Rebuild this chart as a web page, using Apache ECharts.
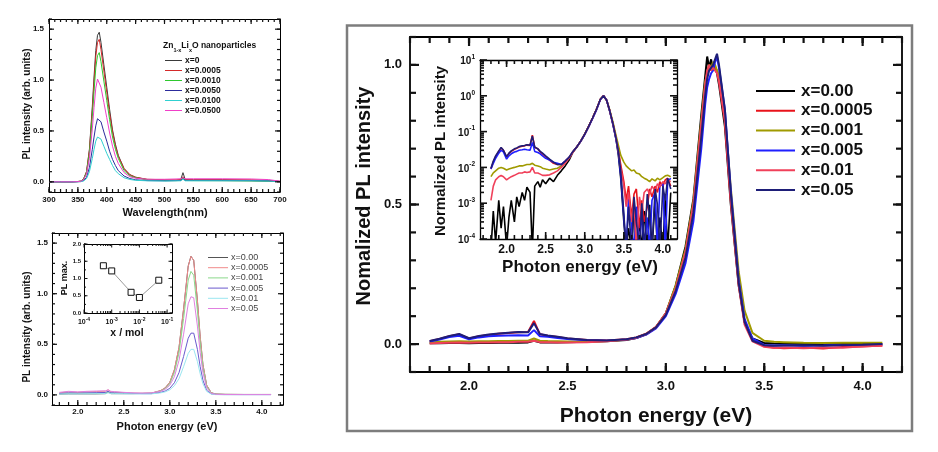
<!DOCTYPE html>
<html><head><meta charset="utf-8">
<script src="https://cdn.jsdelivr.net/npm/echarts@6/dist/echarts.min.js"></script>
<style>html,body{margin:0;padding:0;background:#fff}#c{width:938px;height:452px}</style>
</head><body><div id="c"></div>
<script>
// ================= DATA =================
const wlX = [300,320,340,350,355,360,365,370,375,378,381,384,387,390,395,400,405,410,415,420,430,440,450,470,500,520,528,532,536,550,600,650,680,700];
const wl_x0     = [0,0,0,0.003,0.007,0.03,0.10,0.32,0.74,1.03,1.29,1.44,1.47,1.37,1.15,0.93,0.71,0.51,0.37,0.26,0.13,0.07,0.045,0.022,0.015,0.013,0.02,0.09,0.02,0.013,0.012,0.01,0.008,0.003];
const wl_x0005  = [0,0,0,0.003,0.007,0.028,0.098,0.31,0.70,0.98,1.23,1.37,1.40,1.30,1.09,0.88,0.67,0.49,0.35,0.25,0.13,0.07,0.045,0.025,0.02,0.02,0.022,0.05,0.022,0.022,0.022,0.02,0.015,0.005];
const wl_x0010  = [0,0,0,0.003,0.006,0.025,0.089,0.28,0.64,0.89,1.12,1.24,1.27,1.18,0.99,0.80,0.61,0.44,0.32,0.23,0.11,0.06,0.04,0.02,0.012,0.012,0.013,0.04,0.013,0.012,0.012,0.01,0.008,0.003];
const wl_x0050  = [0,0,0,0.001,0.003,0.013,0.044,0.14,0.32,0.44,0.55,0.62,0.63,0.59,0.49,0.40,0.30,0.22,0.16,0.11,0.057,0.032,0.02,0.012,0.01,0.012,0.014,0.03,0.014,0.015,0.015,0.013,0.01,0.003];
const wl_x0100  = [0,0,0,0.001,0.002,0.009,0.032,0.10,0.23,0.32,0.40,0.44,0.45,0.42,0.35,0.28,0.22,0.16,0.11,0.08,0.04,0.023,0.015,0.01,0.008,0.01,0.01,0.025,0.01,0.01,0.01,0.01,0.008,0.003];
const wl_x0500  = [0,0,0,0.002,0.005,0.022,0.075,0.23,0.52,0.73,0.92,1.01,1.0,0.93,0.78,0.63,0.48,0.35,0.25,0.18,0.09,0.05,0.035,0.025,0.025,0.028,0.03,0.04,0.03,0.03,0.03,0.028,0.022,0.006];
const tlNames = ['x=0','x=0.0005','x=0.0010','x=0.0050','x=0.0100','x=0.0500'];
const tlXTicks = [300,350,400,450,500,550,600,650,700];
const tlYTicks = [0,0.5,1.0,1.5];

const peX = [1.8,1.9,2.0,2.1,2.2,2.3,2.33,2.36,2.4,2.5,2.6,2.7,2.8,2.9,2.95,3.0,3.05,3.1,3.15,3.2,3.23,3.26,3.3,3.33,3.36,3.4,3.45,3.5,3.6,3.8,4.0,4.1];
const pe_x000  = [0.008,0.01,0.01,0.01,0.01,0.012,0.03,0.012,0.012,0.012,0.012,0.014,0.016,0.041,0.069,0.123,0.247,0.466,0.849,1.274,1.37,1.329,0.932,0.575,0.301,0.096,0.021,0.008,0.005,0.004,0.004,0.004];
const pe_x0005 = [0.02,0.03,0.025,0.03,0.033,0.036,0.05,0.03,0.028,0.022,0.018,0.016,0.018,0.043,0.07,0.125,0.25,0.47,0.85,1.27,1.37,1.33,0.93,0.58,0.30,0.097,0.022,0.008,0.005,0.004,0.004,0.004];
const pe_x001  = [0.012,0.015,0.015,0.016,0.017,0.018,0.03,0.017,0.016,0.015,0.014,0.014,0.016,0.038,0.062,0.11,0.22,0.415,0.756,1.135,1.22,1.183,0.83,0.512,0.268,0.085,0.018,0.007,0.005,0.004,0.004,0.004];
const pe_x005  = [0.015,0.02,0.018,0.02,0.022,0.024,0.035,0.02,0.02,0.017,0.014,0.012,0.012,0.025,0.038,0.065,0.12,0.22,0.38,0.56,0.61,0.61,0.45,0.28,0.145,0.045,0.01,0.004,0.003,0.003,0.003,0.003];
const pe_x01   = [0.008,0.01,0.01,0.011,0.012,0.013,0.02,0.012,0.012,0.011,0.01,0.01,0.01,0.02,0.03,0.05,0.09,0.16,0.28,0.41,0.45,0.45,0.33,0.21,0.11,0.035,0.008,0.003,0.002,0.002,0.002,0.002];
const pe_x05   = [0.025,0.035,0.03,0.035,0.038,0.04,0.05,0.035,0.032,0.025,0.02,0.018,0.02,0.035,0.055,0.095,0.18,0.34,0.6,0.9,0.97,0.96,0.68,0.42,0.22,0.07,0.015,0.006,0.004,0.003,0.003,0.003];
const blNames = ['x=0.00','x=0.0005','x=0.001','x=0.005','x=0.01','x=0.05'];
const blXTicks = [2.0,2.5,3.0,3.5,4.0];
const blYTicks = [0,0.5,1.0,1.5];

const molX = [0.0005,0.001,0.005,0.01,0.05];
const plMax = [1.37,1.22,0.6,0.45,0.95];
const molDecades = [-4,-3,-2,-1];
const plMaxTicks = [0,0.5,1.0,1.5,2.0];

const mX = [1.80,1.85,1.90,1.95,2.00,2.05,2.10,2.15,2.20,2.25,2.30,2.33,2.36,2.40,2.45,2.50,2.60,2.70,2.80,2.85,2.90,2.95,3.00,3.05,3.10,3.14,3.18,3.20,3.21,3.22,3.23,3.24,3.25,3.26,3.27,3.30,3.33,3.37,3.40,3.44,3.50,3.55,3.60,3.70,3.80,3.90,4.00,4.10];
const m_x000  = [0.003,0.003,0.004,0.004,0.003,0.004,0.004,0.005,0.005,0.005,0.006,0.012,0.006,0.006,0.006,0.007,0.008,0.01,0.015,0.022,0.035,0.06,0.11,0.21,0.35,0.52,0.82,0.96,1.03,0.99,1.02,0.98,0.99,0.97,0.93,0.78,0.50,0.21,0.08,0.02,0.004,0.002,0.001,0.0,0.001,0.0,0.0,0.0];
const m_x0005 = [0.01,0.018,0.028,0.035,0.02,0.028,0.033,0.037,0.04,0.042,0.043,0.083,0.035,0.03,0.025,0.02,0.015,0.013,0.017,0.024,0.037,0.062,0.11,0.20,0.33,0.50,0.78,0.92,0.97,1.0,0.98,1.0,0.99,0.98,0.95,0.80,0.52,0.22,0.08,0.015,-0.008,-0.012,-0.015,-0.012,-0.016,-0.01,-0.009,-0.005];
const m_x001  = [0.006,0.008,0.009,0.01,0.009,0.01,0.01,0.011,0.011,0.012,0.012,0.02,0.012,0.011,0.01,0.009,0.009,0.011,0.016,0.023,0.036,0.06,0.11,0.21,0.34,0.51,0.80,0.94,0.97,1.0,0.99,1.01,1.0,0.98,0.96,0.82,0.56,0.26,0.12,0.04,0.012,0.008,0.007,0.005,0.004,0.005,0.005,0.005];
const m_x005  = [0.009,0.016,0.025,0.03,0.017,0.024,0.028,0.03,0.031,0.032,0.031,0.05,0.028,0.026,0.022,0.018,0.014,0.012,0.016,0.022,0.034,0.056,0.10,0.18,0.29,0.44,0.70,0.86,0.92,0.95,0.97,0.98,1.01,1.03,0.99,0.84,0.55,0.23,0.09,0.02,-0.003,-0.005,-0.004,-0.006,-0.005,-0.003,-0.004,-0.002];
const m_x01   = [0.002,0.004,0.005,0.006,0.005,0.006,0.006,0.007,0.007,0.008,0.008,0.012,0.007,0.007,0.006,0.006,0.007,0.01,0.016,0.023,0.036,0.06,0.11,0.20,0.33,0.50,0.79,0.93,0.98,1.0,0.98,0.99,0.98,0.97,0.94,0.80,0.51,0.21,0.07,0.01,-0.01,-0.014,-0.012,-0.015,-0.012,-0.013,-0.008,-0.006];
const m_x05   = [0.011,0.019,0.029,0.036,0.021,0.029,0.034,0.038,0.041,0.043,0.042,0.075,0.036,0.031,0.026,0.021,0.015,0.013,0.017,0.024,0.036,0.06,0.105,0.19,0.31,0.47,0.74,0.89,0.95,0.98,0.99,1.0,1.02,1.04,1.0,0.84,0.54,0.22,0.08,0.012,-0.004,-0.006,-0.005,-0.004,-0.006,-0.003,-0.002,0.0];
const rNames = ['x=0.00','x=0.0005','x=0.001','x=0.005','x=0.01','x=0.05'];
const rXTicks = [2.0,2.5,3.0,3.5,4.0];
const rYTicks = [0,0.5,1.0];

const iX = [1.80,1.83,1.86,1.90,1.93,1.96,2.00,2.03,2.06,2.10,2.13,2.16,2.20,2.23,2.26,2.30,2.33,2.36,2.40,2.43,2.46,2.50,2.55,2.60,2.65,2.70,2.75,2.80,2.85,2.90,2.95,3.00,3.05,3.10,3.15,3.20,3.24,3.28,3.32,3.36,3.40,3.43,3.46,3.50,3.53,3.56,3.60,3.63,3.66,3.70,3.73,3.76,3.80,3.83,3.86,3.90,3.93,3.96,4.00,4.03,4.06,4.10];
const i_x000  = [0.00005,0.0006,0.00008,0.0012,0.0002,0.0008,0.00006,0.0004,0.0012,0.0003,0.0015,0.0008,0.002,0.0012,0.0028,0.002,0.00005,0.003,0.004,0.0028,0.0045,0.0035,0.005,0.004,0.006,0.008,0.011,0.016,
  0.027,0.037,0.054,0.084,0.14,0.24,0.42,0.80,1.0,0.74,0.37,0.16,0.062,0.022,
  0.005,0.0003,0.00005,0.0002,0.00005,0.0008,0.00005,0.0003,0.00005,0.0006,0.00005,0.0009,0.00005,0.0012,0.00005,0.0004,0.00005,0.0015,0.00005,0.002];
const i_x0005 = [0.009,0.014,0.02,0.028,0.035,0.03,0.019,0.024,0.028,0.032,0.034,0.037,0.039,0.04,0.042,0.041,0.08,0.036,0.033,0.027,0.024,0.02,0.016,0.013,0.012,0.012,0.015,0.019,
  0.028,0.038,0.055,0.085,0.14,0.24,0.42,0.80,1.0,0.75,0.38,0.17,0.068,0.03,
  0.012,0.004,0.0012,0.003,0.0004,0.0018,0.0025,0.0002,0.0012,0.0003,0.0008,0.0025,0.0015,0.003,0.002,0.004,0.003,0.0045,0.005,0.003];
const i_x001  = [0.0055,0.007,0.008,0.0095,0.01,0.0095,0.0085,0.009,0.0095,0.01,0.0105,0.011,0.011,0.0115,0.012,0.012,0.013,0.0115,0.011,0.0105,0.0095,0.009,0.0085,0.009,0.0095,0.011,0.014,0.019,
  0.028,0.038,0.055,0.086,0.14,0.24,0.42,0.80,1.0,0.77,0.40,0.19,0.078,0.042,
  0.022,0.014,0.011,0.0095,0.008,0.0085,0.007,0.0065,0.0055,0.005,0.0045,0.004,0.0048,0.0042,0.005,0.0045,0.0052,0.0058,0.006,0.0055];
const i_x005  = [0.009,0.013,0.018,0.025,0.03,0.027,0.017,0.021,0.024,0.027,0.028,0.03,0.031,0.032,0.031,0.03,0.05,0.028,0.026,0.024,0.021,0.018,0.016,0.014,0.013,0.012,0.015,0.019,
  0.028,0.038,0.054,0.083,0.135,0.23,0.40,0.78,1.0,0.76,0.37,0.16,0.06,0.025,
  0.006,0.0004,0.00005,0.0015,0.0002,0.00005,0.0008,0.00005,0.0006,0.00005,0.0004,0.00005,0.0012,0.002,0.00005,0.003,0.0035,0.00005,0.004,0.005];
const i_x01   = [0.0012,0.003,0.0045,0.0055,0.006,0.0055,0.0045,0.005,0.0055,0.006,0.0065,0.007,0.007,0.0075,0.0072,0.0075,0.01,0.007,0.007,0.0065,0.006,0.006,0.0062,0.007,0.008,0.01,0.013,0.018,
  0.027,0.038,0.055,0.085,0.14,0.24,0.42,0.80,1.0,0.75,0.38,0.17,0.066,0.028,
  0.01,0.003,0.0008,0.002,0.0003,0.0012,0.00005,0.0015,0.0006,0.002,0.0025,0.0018,0.003,0.0022,0.0035,0.0028,0.004,0.0035,0.0045,0.004];
const i_x05   = [0.0095,0.015,0.021,0.029,0.036,0.03,0.02,0.025,0.029,0.033,0.035,0.038,0.04,0.041,0.043,0.042,0.075,0.037,0.033,0.028,0.025,0.021,0.017,0.014,0.012,0.012,0.015,0.019,
  0.028,0.038,0.055,0.085,0.14,0.24,0.42,0.80,1.0,0.75,0.38,0.17,0.066,0.028,
  0.008,0.0005,0.00005,0.0008,0.00005,0.0015,0.0003,0.00005,0.001,0.00005,0.0018,0.0004,0.00005,0.0025,0.0009,0.00005,0.003,0.0012,0.005,0.0025];
const iXTicks = [2.0,2.5,3.0,3.5,4.0];
const iYDecades = [-4,-3,-2,-1,0,1];

// ================= STYLE / BUILD =================
const FONT = "'Liberation Sans', Arial, Helvetica, sans-serif";
const tlColors = ['#3a3a3a','#d42a2a','#2ec82e','#2c2c9c','#30d0d0','#f040c8'];
const blColors = ['#555555','#f08a8a','#8ad88a','#6a5acd','#9ae6f0','#e080e0'];
const rColors  = ['#000000','#e8131b','#a09a00','#1f1fff','#f0405a','#1e1e78'];

const grids = [], xAxes = [], yAxes = [], series = [], graphics = [];

function steps(a, b, s) { const r = []; for (let k = Math.ceil(a / s - 1e-9); k * s <= b + 1e-9; k++) r.push(+(k * s).toFixed(6)); return r; }
function logMinor(lo, hi) { const r = []; for (let d = Math.floor(lo); d < hi; d++) for (let k = 2; k <= 9; k++) { const v = d + Math.log10(k); if (v >= lo && v <= hi) r.push(v); } return r; }
const f1 = v => v.toFixed(1);
const fInt = v => String(Math.round(v));
const fPow = v => '{b|10}{s|' + Math.round(v) + '}';

function labelAx(g, pos, T, lw, lab) {
  const a = {
    type: 'value', gridIndex: g, position: pos, min: T.min, max: T.max,
    axisLine: { show: true, onZero: false, lineStyle: { color: '#000', width: lw } },
    axisTick: { show: false }, axisLabel: { show: false },
    splitLine: { show: false }, splitArea: { show: false }
  };
  if (lab) a.axisLabel = Object.assign({ show: true, customValues: T.major, formatter: T.fmt, color: '#111', fontFamily: FONT, fontWeight: 'bold' }, lab);
  return a;
}
// tick marks placed through the axes' own scales (custom series)
function tickSeries(p, X, Y, st) {
  const toRaw = (S, v) => S.type === 'log' ? Math.pow(10, v) : v;
  const xr = X.type === 'log' ? X.min * 1.0001 : X.min, yr = Y.type === 'log' ? Y.min * 1.0001 : Y.min;
  const data = [];
  [[X.tick.major, st.major], [X.tick.minor, st.minor]].forEach(([vals, len]) => vals.forEach(v => {
    data.push([toRaw(X, v), yr, 0, len]); data.push([toRaw(X, v), yr, 1, len]); }));
  [[Y.tick.major, st.major], [Y.tick.minor, st.minor]].forEach(([vals, len]) => vals.forEach(v => {
    data.push([xr, toRaw(Y, v), 2, len]); data.push([xr, toRaw(Y, v), 3, len]); }));
  const tw = st.tw, col = '#111';
  series.push({
    type: 'custom', xAxisIndex: p.xi, yAxisIndex: p.yi, clip: false, z: 10, data,
    renderItem: function (params, api) {
      const cs = params.coordSys, pt = api.coord([api.value(0), api.value(1)]);
      const side = api.value(2), len = api.value(3);
      let s;
      if (side === 0) s = { x1: pt[0], y1: cs.y + cs.height, x2: pt[0], y2: cs.y + cs.height - len };
      else if (side === 1) s = { x1: pt[0], y1: cs.y, x2: pt[0], y2: cs.y + len };
      else if (side === 2) s = { x1: cs.x, y1: pt[1], x2: cs.x + len, y2: pt[1] };
      else s = { x1: cs.x + cs.width, y1: pt[1], x2: cs.x + cs.width - len, y2: pt[1] };
      return { type: 'line', shape: s, style: { stroke: col, lineWidth: tw } };
    }
  });
}
function panel(rect, X, Y, st) {
  const g = grids.length;
  grids.push({ left: rect[0], top: rect[1], width: rect[2], height: rect[3], show: false, containLabel: false });
  const xi = xAxes.length;
  xAxes.push({ type: X.type, gridIndex: g, position: 'bottom', min: X.min, max: X.max, show: false });
  const yi = yAxes.length;
  yAxes.push({ type: Y.type, gridIndex: g, position: 'left', min: Y.min, max: Y.max, show: false });
  xAxes.push(labelAx(g, 'bottom', X.tick, st.lw, st.xLab));
  xAxes.push(labelAx(g, 'top', X.tick, st.lw, null));
  yAxes.push(labelAx(g, 'left', Y.tick, st.lw, st.yLab));
  yAxes.push(labelAx(g, 'right', Y.tick, st.lw, null));
  const p = { xi, yi };
  tickSeries(p, X, Y, st);
  return p;
}
function line(p, xs, ys, color, width) {
  series.push({ type: 'line', xAxisIndex: p.xi, yAxisIndex: p.yi, data: xs.map((x, i) => [x, ys[i]]),
    showSymbol: false, symbol: 'none', lineStyle: { color, width }, itemStyle: { color }, silent: true, clip: true, z: 2 });
}
function txt(x, y, text, size, extra) {
  graphics.push(Object.assign({ type: 'text', x, y, z: 100, silent: true,
    style: { text, fontSize: size, fontWeight: 'bold', fontFamily: FONT, fill: '#111', align: 'center', verticalAlign: 'middle' } }, extra || {}));
}
function seg(x1, x2, y, color, w) {
  graphics.push({ type: 'line', z: 100, silent: true, shape: { x1, y1: y, x2, y2: y }, style: { stroke: color, lineWidth: w } });
}

// ---- Top-left panel ----
const pTL = panel([49, 19, 231, 173],
  { type: 'value', min: 300, max: 700, tick: { min: 300, max: 700, major: tlXTicks, minor: steps(300, 700, 10), fmt: fInt } },
  { type: 'value', min: -0.1, max: 1.6, tick: { min: -0.1, max: 1.6, major: tlYTicks, minor: steps(-0.1, 1.6, 0.1), fmt: f1 } },
  { major: 5, minor: 3, lw: 1, tw: 1.2, xLab: { fontSize: 8, margin: 4 }, yLab: { fontSize: 8, margin: 5 } });
[wl_x0, wl_x0005, wl_x0010, wl_x0050, wl_x0100, wl_x0500].forEach((d, i) => line(pTL, wlX, d, tlColors[i], 1));
txt(27, 104, 'PL intensity (arb. units)', 10, { rotation: Math.PI / 2 });
txt(165, 213, 'Wavelength(nm)', 11);
graphics.push({ type: 'text', x: 163, y: 47, z: 100, silent: true, style: {
  text: '{a|Zn}{s|1-x}{a|Li}{s|x}{a|O nanoparticles}', align: 'left', verticalAlign: 'middle', fill: '#111',
  rich: { a: { fontSize: 8.5, fontWeight: 'bold', fontFamily: FONT, fill: '#111', padding: [0, 0, 3, 0], verticalAlign: 'top' },
          s: { fontSize: 5.5, fontWeight: 'bold', fontFamily: FONT, fill: '#111', verticalAlign: 'bottom' } } } });
tlNames.forEach((n, i) => { const y = 60.5 + i * 10; seg(165, 182, y, tlColors[i], 1); txt(185, y, n, 8.5, {}); graphics[graphics.length - 1].style.align = 'left'; });

// ---- Bottom-left panel ----
const pBL = panel([52, 233, 231, 172],
  { type: 'value', min: 1.72, max: 4.23, tick: { min: 1.72, max: 4.23, major: blXTicks, minor: steps(1.8, 4.2, 0.1), fmt: f1 } },
  { type: 'value', min: -0.1, max: 1.6, tick: { min: -0.1, max: 1.6, major: blYTicks, minor: steps(-0.1, 1.6, 0.1), fmt: f1 } },
  { major: 5, minor: 3, lw: 1, tw: 1.2, xLab: { fontSize: 8, margin: 3 }, yLab: { fontSize: 8, margin: 4 } });
[pe_x000, pe_x0005, pe_x001, pe_x005, pe_x01, pe_x05].forEach((d, i) => line(pBL, peX, d, blColors[i], 1));
txt(27, 327, 'PL intensity (arb. units)', 10, { rotation: Math.PI / 2 });
txt(167, 427, 'Photon energy (eV)', 11);
blNames.forEach((n, i) => { const y = 257.5 + i * 10.2; seg(208, 228, y, blColors[i], 1);
  graphics.push({ type: 'text', x: 231, y, z: 100, silent: true, style: { text: n, fontSize: 9, fontFamily: FONT, fill: '#444', align: 'left', verticalAlign: 'middle' } }); });

// ---- Bottom-left inset ----
const molMax = 0.15;
const pBI = panel([84, 244, 88, 69],
  { type: 'log', min: 0.0001, max: molMax, tick: { min: -4, max: Math.log10(molMax), major: molDecades, minor: logMinor(-4, Math.log10(molMax)), fmt: fPow } },
  { type: 'value', min: 0, max: 2, tick: { min: 0, max: 2, major: plMaxTicks, minor: steps(0, 2, 0.25), fmt: f1 } },
  { major: 3.5, minor: 2, lw: 1, tw: 1,
    xLab: { margin: 4, rich: { b: { fontSize: 7, fontWeight: 'bold', fontFamily: FONT, color: '#111', padding: [2, 0, 0, 0], verticalAlign: 'bottom' },
                               s: { fontSize: 5, fontWeight: 'bold', fontFamily: FONT, color: '#111', verticalAlign: 'top' } } },
    yLab: { fontSize: 6, margin: 3 } });
series.push({ type: 'line', xAxisIndex: pBI.xi, yAxisIndex: pBI.yi, data: molX.map((x, i) => [x, plMax[i]]),
  symbol: 'rect', symbolSize: 6, showSymbol: true, lineStyle: { color: '#9a9a9a', width: 1 },
  itemStyle: { color: '#fff', borderColor: '#111', borderWidth: 1 }, silent: true, z: 5 });
txt(65, 278, 'PL max.', 9, { rotation: Math.PI / 2 });
txt(127, 333, 'x / mol', 10.5);

// ---- Right main panel ----
graphics.push({ type: 'rect', z: 90, silent: true, shape: { x: 347, y: 25.5, width: 565, height: 405.5 }, style: { fill: 'none', stroke: '#7d7d7d', lineWidth: 2.5 } });
const pRM = panel([410, 37, 492, 335],
  { type: 'value', min: 1.7, max: 4.2, tick: { min: 1.7, max: 4.2, major: rXTicks, minor: steps(1.7, 4.2, 0.1), fmt: f1 } },
  { type: 'value', min: -0.1, max: 1.1, tick: { min: -0.1, max: 1.1, major: rYTicks, minor: steps(-0.1, 1.1, 0.1), fmt: f1 } },
  { major: 9, minor: 6, lw: 1.8, tw: 2.2, xLab: { fontSize: 13, margin: 8 }, yLab: { fontSize: 13, margin: 8 } });
[m_x000, m_x0005, m_x001, m_x005, m_x01, m_x05].forEach((d, i) => line(pRM, mX, d, rColors[i], 2));
txt(364, 196, 'Nomalized PL intensity', 20, { rotation: Math.PI / 2 });
txt(656, 416, 'Photon energy (eV)', 21);
rNames.forEach((n, i) => { const y = 91 + i * 19.8; seg(756, 795, y, rColors[i], 2);
  graphics.push({ type: 'text', x: 801, y, z: 100, silent: true, style: { text: n, fontSize: 17, fontWeight: 'bold', fontFamily: FONT, fill: '#111', align: 'left', verticalAlign: 'middle' } }); });

// ---- Right inset ----
const pRI = panel([480, 60, 197, 179],
  { type: 'value', min: 1.66, max: 4.18, tick: { min: 1.66, max: 4.18, major: iXTicks, minor: steps(1.7, 4.1, 0.1), fmt: f1 } },
  { type: 'log', min: 0.0001, max: 10, tick: { min: -4, max: 1, major: iYDecades, minor: logMinor(-4, 1), fmt: fPow } },
  { major: 7, minor: 4, lw: 1.3, tw: 1.6, xLab: { fontSize: 12, margin: 5 },
    yLab: { margin: 5, rich: { b: { fontSize: 10, fontWeight: 'bold', fontFamily: FONT, color: '#111', padding: [3, 0, 0, 0], verticalAlign: 'bottom' },
                               s: { fontSize: 6.5, fontWeight: 'bold', fontFamily: FONT, color: '#111', verticalAlign: 'top' } } } });
[i_x000, i_x0005, i_x001, i_x005, i_x01, i_x05].forEach((d, i) => line(pRI, iX, d, rColors[i], 1.6));
txt(441, 151, 'Normalized PL intensity', 15, { rotation: Math.PI / 2 });
txt(580, 267, 'Photon energy (eV)', 17);

const chart = echarts.init(document.getElementById('c'), null, { renderer: 'canvas', width: 938, height: 452 });
chart.setOption({
  backgroundColor: '#fff', animation: false,
  grid: grids, xAxis: xAxes, yAxis: yAxes, series: series, graphic: graphics
});
</script></body></html>
